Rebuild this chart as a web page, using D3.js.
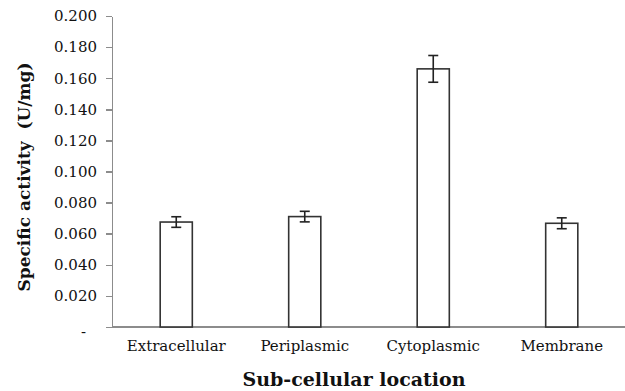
<!DOCTYPE html>
<html>
<head>
<meta charset="utf-8">
<style>
body {
    margin: 0;
    background: #fff;
}
svg {
    display: block;
}
.tick text {
    font-family: "DejaVu Serif", serif;
    font-size: 15px;
    fill: #111;
}
.axis path,
.axis line {
    stroke: #8c8c8c;
    stroke-width: 1.5px;
    shape-rendering: crispEdges;
}
.title {
    font-family: "DejaVu Serif", serif;
    font-weight: bold;
    fill: #111;
}
</style>
</head>
<body>
<script src="https://d3js.org/d3.v7.min.js"></script>
<script>
// data
var locations = ["Extracellular", "Periplasmic", "Cytoplasmic", "Membrane"];
var activity = [0.0675, 0.071, 0.166, 0.0667];
var errors = [0.0034, 0.0034, 0.0086, 0.0035];
var yTicks = [0, 0.02, 0.04, 0.06, 0.08, 0.10, 0.12, 0.14, 0.16, 0.18, 0.20];

var width = 625, height = 391;
var plotLeft = 112, plotRight = 626, plotTop = 16, plotBottom = 327;

var svg = d3.select("body").append("svg")
    .attr("width", width)
    .attr("height", height);

var x = d3.scaleBand()
    .domain(locations)
    .range([plotLeft, plotRight])
    .paddingInner(0.75)
    .paddingOuter(0.375);

var y = d3.scaleLinear()
    .domain([0, 0.2])
    .range([plotBottom, plotTop]);

var fmt = d3.format(".3f");

var yAxis = d3.axisLeft(y)
    .tickValues(yTicks)
    .tickSize(6)
    .tickSizeOuter(0)
    .tickPadding(9)
    .tickFormat(function(d) { return d === 0 ? "-" : fmt(d); });

var gy = svg.append("g")
    .attr("class", "y axis")
    .attr("transform", "translate(" + plotLeft + ",0)")
    .call(yAxis);

// the zero label sits further left, Excel style
gy.selectAll(".tick text")
    .filter(function(d) { return d === 0; })
    .attr("x", -26)
    .attr("dy", "0.6em");

var gx = svg.append("g")
    .attr("class", "x axis")
    .attr("transform", "translate(0," + plotBottom + ")")
    .call(d3.axisBottom(x).tickSize(0).tickSizeOuter(0).tickPadding(13));
gx.select(".domain").attr("d", "M" + plotLeft + ",0H" + width);

// bars
svg.append("g").selectAll("rect")
    .data(activity)
    .enter().append("rect")
    .attr("x", function(d, i) { return x(locations[i]); })
    .attr("y", function(d) { return y(d); })
    .attr("width", x.bandwidth())
    .attr("height", function(d) { return y(0) - y(d); })
    .attr("fill", "#fff")
    .attr("stroke", "#333")
    .attr("stroke-width", 1.6);

// error bars
var err = svg.append("g")
    .attr("stroke", "#222")
    .attr("stroke-width", 1.6)
    .selectAll("g")
    .data(activity)
    .enter().append("g")
    .attr("transform", function(d, i) {
        return "translate(" + (x(locations[i]) + x.bandwidth() / 2) + ",0)";
    });
err.append("line")
    .attr("y1", function(d, i) { return y(d + errors[i]); })
    .attr("y2", function(d, i) { return y(d - errors[i]); });
err.append("line")
    .attr("x1", -5).attr("x2", 5)
    .attr("y1", function(d, i) { return y(d + errors[i]); })
    .attr("y2", function(d, i) { return y(d + errors[i]); });
err.append("line")
    .attr("x1", -5).attr("x2", 5)
    .attr("y1", function(d, i) { return y(d - errors[i]); })
    .attr("y2", function(d, i) { return y(d - errors[i]); });

// titles
svg.append("text")
    .attr("class", "title")
    .attr("transform", "translate(30," + 177 + ") rotate(-90)")
    .attr("text-anchor", "middle")
    .style("font-size", "17px")
    .style("white-space", "pre")
    .text("Specific activity  (U/mg)");

svg.append("text")
    .attr("class", "title")
    .attr("x", 354)
    .attr("y", 386)
    .attr("text-anchor", "middle")
    .style("font-size", "19px")
    .text("Sub-cellular location");
</script>
</body>
</html>
